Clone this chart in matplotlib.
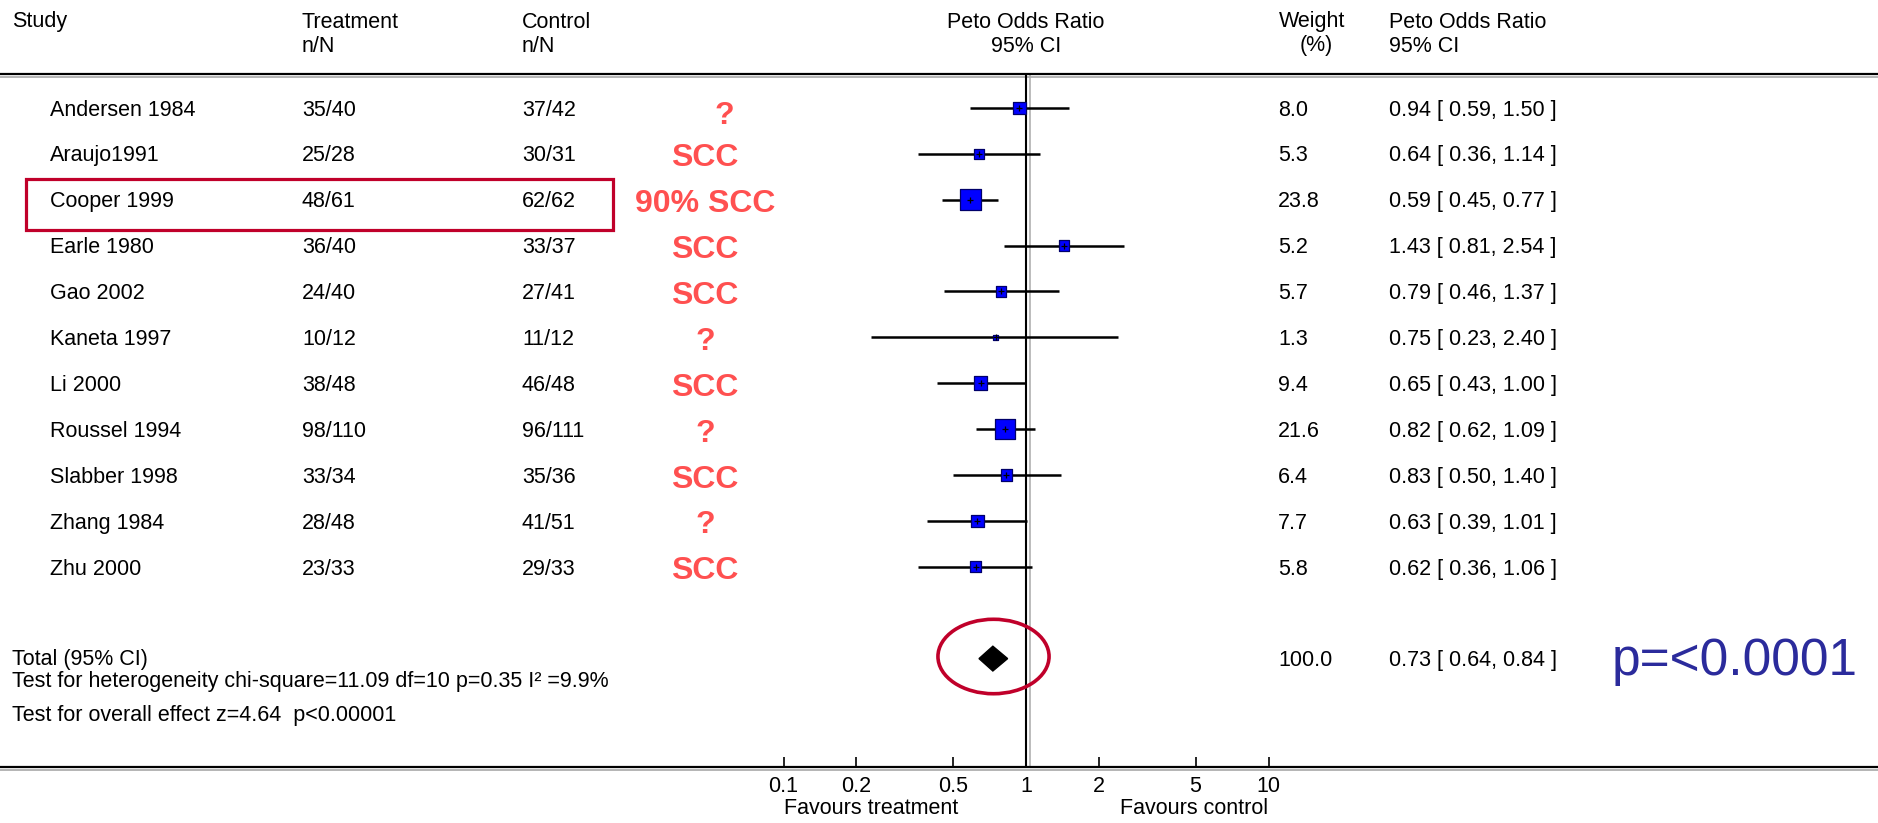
import matplotlib
matplotlib.use("Agg")
import matplotlib.pyplot as plt
import matplotlib.transforms as mtransforms
import numpy as np
from matplotlib.patches import Rectangle
from matplotlib.path import Path
from matplotlib.ticker import NullLocator


STUDIES = ["Andersen 1984", "Araujo1991", "Cooper 1999", "Earle 1980", "Gao 2002", "Kaneta 1997",
           "Li 2000", "Roussel 1994", "Slabber 1998", "Zhang 1984", "Zhu 2000"]
TREATMENT = ["35/40", "25/28", "48/61", "36/40", "24/40", "10/12", "38/48", "98/110", "33/34", "28/48", "23/33"]
CONTROL = ["37/42", "30/31", "62/62", "33/37", "27/41", "11/12", "46/48", "96/111", "35/36", "41/51", "29/33"]
NOTES = ["?", "SCC", "90% SCC", "SCC", "SCC", "?", "SCC", "?", "SCC", "?", "SCC"]
ODDS = [0.94, 0.64, 0.59, 1.43, 0.79, 0.75, 0.65, 0.82, 0.83, 0.63, 0.62]
CI_LOW = [0.59, 0.36, 0.45, 0.81, 0.46, 0.23, 0.43, 0.62, 0.50, 0.39, 0.36]
CI_HIGH = [1.50, 1.14, 0.77, 2.54, 1.37, 2.40, 1.00, 1.09, 1.40, 1.01, 1.06]
WEIGHTS = [8.0, 5.3, 23.8, 5.2, 5.7, 1.3, 9.4, 21.6, 6.4, 7.7, 5.8]

TOTAL_ODDS = 0.73
TOTAL_LOW = 0.64
TOTAL_HIGH = 0.84
TOTAL_WEIGHT = 100.0
HETEROGENEITY = "Test for heterogeneity chi-square=11.09 df=10 p=0.35 I\u00b2 =9.9%"
OVERALL = "Test for overall effect z=4.64  p<0.00001"
P_NOTE = "p=<0.0001"

AXIS_TICKS = [0.1, 0.2, 0.5, 1, 2, 5, 10]
TICK_LABELS = ["0.1", "0.2", "0.5", "1", "2", "5", "10"]

# layout in pixels of the 1878x823 canvas
W, H = 1878, 823
ROW0, PITCH = 107.8, 45.9
HEAD_LINE, AXIS_LINE = 74, 766.5
ONE_PX, DECADE_PX = 1026, 242.5
FS = 15.5
TXT_SHIFT = 0.05      # rows, small nudge so text sits on the row like the original
NOTE_SHIFT = 0.1
RED = "#C0002A"
NOTE_RED = "#FF5050"

plt.rcParams["font.family"] = ["Liberation Sans", "DejaVu Sans"]


def px(x):
    return x / W


def row_of(y):
    return (y - ROW0) / PITCH


def main():
    fig = plt.figure(figsize=(W / 100, H / 100), dpi=100)
    fig.patch.set_facecolor("white")

    ax = fig.add_axes([0, 1 - AXIS_LINE / H, 1, (AXIS_LINE - HEAD_LINE) / H])
    ax.set_xscale("log")
    ax.set_xlim(10 ** (-ONE_PX / DECADE_PX), 10 ** ((W - ONE_PX) / DECADE_PX))
    ax.set_ylim(row_of(AXIS_LINE), row_of(HEAD_LINE))
    ax.patch.set_alpha(0)

    ax.set_xticks(AXIS_TICKS)
    ax.set_xticklabels(TICK_LABELS)
    ax.xaxis.set_minor_locator(NullLocator())
    ax.set_yticks([])
    ax.tick_params(axis="x", direction="in", length=7, width=1.2, pad=7, labelsize=FS)
    for side in ["left", "right"]:
        ax.spines[side].set_visible(False)
    for side in ["top", "bottom"]:
        ax.spines[side].set_linewidth(1.6)
        ax.spines[side].set_color("black")

    # grey shadow under the two horizontal rules
    shade = mtransforms.ScaledTranslation(0, -3 / 100, fig.dpi_scale_trans)
    for yy in [0, 1]:
        ax.plot([0, 1], [yy, yy], transform=ax.transAxes + shade, color="#a8a8a8", lw=1.2, clip_on=False)

    # line of no effect (black with grey twin)
    ax.axvline(1, color="black", lw=1.5, zorder=2)
    twin = ax.get_xaxis_transform() + mtransforms.ScaledTranslation(4 / 100, 0, fig.dpi_scale_trans)
    ax.plot([1, 1], [0, 1], transform=twin, color="#b0b0b0", lw=1.2, zorder=1)

    rows = np.arange(len(STUDIES))
    ax.hlines(rows, CI_LOW, CI_HIGH, color="black", lw=1.8, zorder=3)
    side_pt = 4.45 * np.sqrt(np.array(WEIGHTS)) * 72 / 100
    ax.scatter(ODDS, rows, s=side_pt ** 2, marker="s", color="#0000FF", edgecolors="#00006a",
               linewidths=0.9, zorder=4)
    ax.scatter(ODDS, rows, s=25, marker="+", color="black", linewidths=0.9, zorder=5)

    total_row = len(STUDIES) + 1
    ax.fill([TOTAL_LOW, TOTAL_ODDS, TOTAL_HIGH, TOTAL_ODDS],
            [total_row, total_row - 0.27, total_row, total_row + 0.27], color="black", zorder=4)
    ellipse = Path.unit_circle().transformed(mtransforms.Affine2D().scale(1.0, 0.67))
    ax.plot([TOTAL_ODDS], [total_row - 0.05], marker=ellipse, ms=80, mfc="none", mec=RED, mew=2.6, zorder=5)

    tf = mtransforms.blended_transform_factory(fig.transFigure, ax.transData)
    txt = dict(fontsize=FS, color="black", va="center", transform=tf)

    # column headers
    hy1, hy2 = 1 - 22 / H, 1 - 46 / H
    fig.text(px(12), hy1, "Study", fontsize=FS, va="center")
    fig.text(px(302), hy1, "Treatment", fontsize=FS, va="center")
    fig.text(px(302), hy2, "n/N", fontsize=FS, va="center")
    fig.text(px(522), hy1, "Control", fontsize=FS, va="center")
    fig.text(px(522), hy2, "n/N", fontsize=FS, va="center")
    fig.text(px(ONE_PX), hy1, "Peto Odds Ratio", fontsize=FS, va="center", ha="center")
    fig.text(px(ONE_PX), hy2, "95% CI", fontsize=FS, va="center", ha="center")
    fig.text(px(1312), hy1, "Weight", fontsize=FS, va="center", ha="center")
    fig.text(px(1316), hy2, "(%)", fontsize=FS, va="center", ha="center")
    fig.text(px(1389), hy1, "Peto Odds Ratio", fontsize=FS, va="center")
    fig.text(px(1389), hy2, "95% CI", fontsize=FS, va="center")

    for i in rows:
        y = i + TXT_SHIFT
        ax.text(px(50), y, STUDIES[i], **txt)
        ax.text(px(302), y, TREATMENT[i], **txt)
        ax.text(px(522), y, CONTROL[i], **txt)
        ax.text(px(1278), y, f"{WEIGHTS[i]:.1f}", **txt)
        ax.text(px(1389), y, f"{ODDS[i]:.2f} [ {CI_LOW[i]:.2f}, {CI_HIGH[i]:.2f} ]", **txt)
        nx = 724 if i == 0 else 705
        ax.text(px(nx), i + NOTE_SHIFT + (0.08 if i == 0 else 0), NOTES[i], transform=tf, fontsize=23,
                fontweight="bold", color=NOTE_RED, ha="center", va="center")

    ax.text(px(12), row_of(659.5), "Total (95% CI)", **txt)
    ax.text(px(12), row_of(682), HETEROGENEITY, **txt)
    ax.text(px(12), row_of(716), OVERALL, **txt)
    ax.text(px(1278), total_row + TXT_SHIFT, f"{TOTAL_WEIGHT:.1f}", **txt)
    ax.text(px(1389), total_row + TXT_SHIFT, f"{TOTAL_ODDS:.2f} [ {TOTAL_LOW:.2f}, {TOTAL_HIGH:.2f} ]", **txt)
    ax.text(px(1612), row_of(675), P_NOTE, transform=tf, fontsize=37, color="#2B2B9C", va="baseline")

    # red box around Cooper 1999
    ax.add_patch(Rectangle((px(26), 1.56), px(613) - px(26), 1.11, transform=tf, fill=False,
                           edgecolor=RED, lw=2.3, clip_on=False, zorder=6))

    # favours labels under the axis
    fav = mtransforms.blended_transform_factory(ax.transData, fig.transFigure)
    fig.text(AXIS_TICKS[0], 1 - 808.5 / H, "Favours treatment", transform=fav, fontsize=FS, va="center", ha="left")
    fig.text(AXIS_TICKS[-1], 1 - 808.5 / H, "Favours control", transform=fav, fontsize=FS, va="center", ha="right")

    fig.savefig("out.png", dpi=100, facecolor="white")


if __name__ == "__main__":
    main()
